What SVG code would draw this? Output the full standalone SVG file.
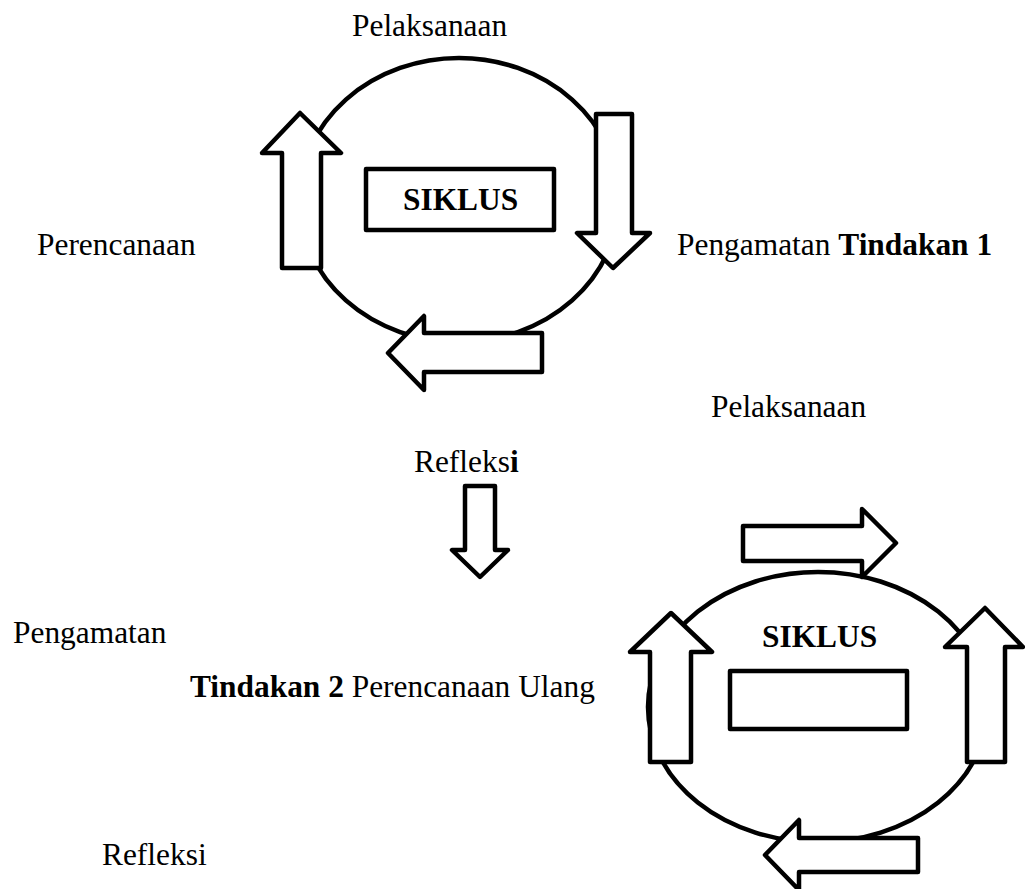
<svg xmlns="http://www.w3.org/2000/svg" width="1025" height="889" viewBox="0 0 1025 889">
<style>
.ln{fill:none;stroke:#000;stroke-width:4.5}
.ar{fill:#fff;stroke:#000;stroke-width:4.5;stroke-linejoin:round}
.bx{fill:#fff;stroke:#000;stroke-width:4.5;stroke-linejoin:round}
text{font-family:"Liberation Serif","Times New Roman",serif;font-size:31.4px;fill:#000}
.b{font-weight:bold}
</style>
<rect width="1025" height="889" fill="#fff"/>
<g id="cycle1">
<ellipse class="ln" cx="459" cy="200" rx="160" ry="142"/>
<rect class="bx" x="366" y="169" width="188" height="61"/>
<text class="b" x="403" y="210">SIKLUS</text>
</g>
<g id="cycle2">
<ellipse class="ln" cx="818" cy="707" rx="170" ry="135"/>
<rect class="bx" x="730" y="671" width="177" height="58"/>
<text class="b" x="762" y="647">SIKLUS</text>
</g>
<g id="connectors">
<polygon class="ar" points="300,113 341,153 321,153 321,268 282,268 282,153 262,153"/>
<polygon class="ar" points="596,114 632,114 632,233 650,233 613,268 577,233 596,233"/>
<polygon class="ar" points="388,353 424,316 424,333 542,333 542,372 424,372 424,390"/>
<polygon class="ar" points="465,486 495,486 495,550 508,550 480,577 452,550 465,550"/>
<polygon class="ar" points="743,526 862,526 862,509 896,543 862,577 862,561 743,561"/>
<polygon class="ar" points="671,613 712,652 691,652 691,762 650,762 650,652 630,652"/>
<polygon class="ar" points="985,608 1023,647 1005,647 1005,762 967,762 967,647 945,647"/>
<polygon class="ar" points="765,855 799,820 799,838 918,838 918,872 799,872 799,890"/>
</g>
<g id="labels">
<text id="lbl-pelaksanaan1" x="352" y="36">Pelaksanaan</text>
<text id="lbl-perencanaan1" x="37" y="255">Perencanaan</text>
<text id="lbl-pengamatan1" x="677" y="255">Pengamatan <tspan class="b">Tindakan 1</tspan></text>
<text id="lbl-pelaksanaan2" x="711" y="417">Pelaksanaan</text>
<text id="lbl-refleksi1" x="414" y="472">Refleks<tspan class="b">i</tspan></text>
<text id="lbl-pengamatan2" x="13" y="643">Pengamatan</text>
<text id="lbl-tindakan2" x="190" y="697"><tspan class="b">Tindakan 2</tspan> Perencanaan Ulang</text>
<text id="lbl-refleksi2" x="102" y="865">Refleksi</text>
</g>
</svg>
